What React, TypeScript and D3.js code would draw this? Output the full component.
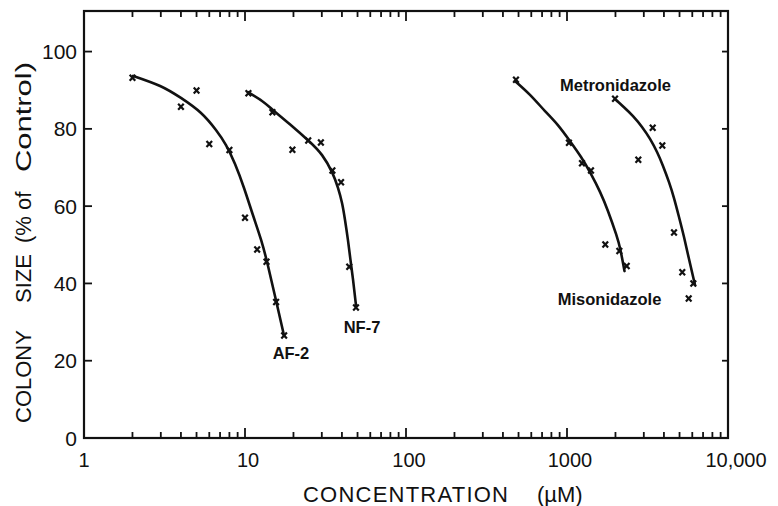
import * as d3 from 'd3'

// measured points (concentration in uM, colony size in % of control)
const af2Points = [[2, 93.2], [4, 85.7], [5, 89.9], [6, 76.1], [8, 74.5], [10, 57], [11.9, 48.8], [13.6, 45.6], [15.6, 35.2], [17.5, 26.5]]
const nf7Points = [[10.5, 89.2], [14.8, 84.3], [19.7, 74.6], [24.7, 77], [29.6, 76.5], [34.9, 69.2], [39.5, 66.2], [44.4, 44.3], [48.9, 33.8]]
const misoPoints = [[482, 92.7], [1028, 76.4], [1239, 71.1], [1409, 69.2], [1729, 50.1], [2114, 48.4], [2349, 44.5]]
const metroPoints = [[1987, 87.8], [2773, 72], [3406, 80.3], [3909, 75.7], [4620, 53.2], [5200, 42.9], [6090, 40], [5700, 36.1]]

// hand drawn fitted curves
const af2Curve = [[2.02, 93.7], [2.97, 91.1], [4.0, 88.0], [5.33, 84.1], [6.6, 79.7], [7.62, 75.8], [8.67, 70.9], [9.86, 64.7],
  [11.2, 57.7], [12.6, 51.2], [13.9, 44.5], [15.6, 35.5], [17.5, 26.4]]
const nf7Curve = [[10.44, 89.5], [12.75, 87.2], [14.9, 84.9], [19.0, 81.2], [25.0, 76.8], [30.1, 73.2], [34.7, 68.8], [37.8, 64.7],
  [40.05, 60.8], [41.8, 56.4], [43.6, 51.2], [45.2, 46.1], [46.9, 40.9], [48.9, 34.4]]
const misoCurve = [[475, 92.4], [589, 88.8], [730, 84.6], [880, 80.9], [1044, 76.8], [1222, 72.7], [1410, 68.3], [1603, 63.7],
  [1798, 58.7], [2016, 52.8], [2149, 48.6], [2276, 43.2]]
const metroCurve = [[1987, 87.7], [2259, 85.6], [2570, 83.3], [2923, 80.5], [3278, 77.4], [3623, 74.0], [3947, 70.4], [4300, 66.2],
  [4618, 62.1], [4962, 57.2], [5330, 52.0], [5725, 46.3], [6237, 39.6]]

const yTicks = [0, 20, 40, 60, 80, 100]
const xTickLabels = ['1', '10', '100', '1000', '10,000']

const curves = [af2Curve, nf7Curve, misoCurve, metroCurve]
const pointSets = [af2Points, nf7Points, misoPoints, metroPoints]

// series labels, placed in data coordinates
const labels = [
  { text: 'AF-2', x: 19.3, y: 20.4, anchor: 'middle' },
  { text: 'NF-7', x: 53.3, y: 27.2, anchor: 'middle' },
  { text: 'Metronidazole', x: 905, y: 89.8, anchor: 'start' },
  { text: 'Misonidazole', x: 876, y: 34.4, anchor: 'start' },
]

export default function App () {
  const width = 778
  const height = 506
  const left = 84, right = 728, top = 11, bottom = 438

  const x = d3.scaleLog().domain([1, 10000]).range([left, right])
  const y = d3.scaleLinear().domain([0, 110.5]).range([bottom, top])

  const line = d3.line().x((d) => x(d[0])).y((d) => y(d[1])).curve(d3.curveNatural)

  const logTicks = x.ticks().filter((t) => t > 1 && t < 10000)
  const isMajor = (t) => Math.abs(Math.log10(t) - Math.round(Math.log10(t))) < 1e-9

  const font = '"Liberation Sans", Arial, sans-serif'

  return (
    <svg width={width} height={height} style={{ position: 'absolute', left: 0, top: 0, background: '#fff' }}>
      {/* frame */}
      <rect x={left} y={top} width={right - left} height={bottom - top} fill="none" stroke="#111" strokeWidth={2.2} />

      {/* x ticks, bottom and top, pointing inward */}
      {logTicks.map((t) => {
        const len = isMajor(t) ? 10 : 6
        return (
          <g key={'xt' + t} stroke="#111" strokeWidth={1.8}>
            <line x1={x(t)} x2={x(t)} y1={bottom} y2={bottom - len} />
            <line x1={x(t)} x2={x(t)} y1={top} y2={top + len} />
          </g>
        )
      })}

      {/* y ticks, left and right */}
      {yTicks.filter((t) => t > 0).map((t) => (
        <g key={'yt' + t} stroke="#111" strokeWidth={1.8}>
          <line x1={left} x2={left + 8} y1={y(t)} y2={y(t)} />
          <line x1={right} x2={right - 6} y1={y(t)} y2={y(t)} />
        </g>
      ))}

      {/* tick labels */}
      {yTicks.map((t) => (
        <text key={'yl' + t} x={77} y={y(t)} dy="0.36em" textAnchor="end" fontFamily={font} fontSize={21} fill="#111">{t}</text>
      ))}
      {xTickLabels.map((s, i) => (
        <text key={'xl' + s} x={x(Math.pow(10, i)) + (i === 4 ? 8 : i > 0 ? 3 : 0)} y={467} textAnchor="middle" fontFamily={font} fontSize={20} fill="#111">{s}</text>
      ))}

      {/* axis titles */}
      <text x={303} y={502} textLength={205} lengthAdjust="spacing" fontFamily={font} fontSize={22} fill="#111">CONCENTRATION</text>
      <text x={537} y={502} fontFamily={font} fontSize={22} fill="#111">(µM)</text>
      <g transform="translate(31,0) rotate(-90)" fontFamily={font} fontSize={22} fill="#111">
        <text x={-423}>COLONY</text>
        <text x={-303}>SIZE</text>
        <text x={-243}>(%</text>
        <text x={-210}>of</text>
        <text x={-172} textLength={110} lengthAdjust="spacingAndGlyphs">Control)</text>
      </g>

      {/* fitted curves */}
      {curves.map((c, i) => (
        <path key={'c' + i} d={line(c)} fill="none" stroke="#111" strokeWidth={2.6} strokeLinecap="round" />
      ))}

      {/* data markers */}
      {pointSets.map((pts, i) => (
        <g key={'p' + i} stroke="#111" strokeWidth={2.2}>
          {pts.map((p, j) => (
            <path key={j} d={`M${x(p[0]) - 2.8},${y(p[1]) - 3}L${x(p[0]) + 2.8},${y(p[1]) + 3}M${x(p[0]) + 2.8},${y(p[1]) - 3}L${x(p[0]) - 2.8},${y(p[1]) + 3}`} />
          ))}
        </g>
      ))}

      {/* series labels */}
      {labels.map((l) => (
        <text key={l.text} x={x(l.x)} y={y(l.y)} textAnchor={l.anchor} fontFamily={font} fontWeight="bold" fontSize={16.5} fill="#111">{l.text}</text>
      ))}
    </svg>
  )
}
